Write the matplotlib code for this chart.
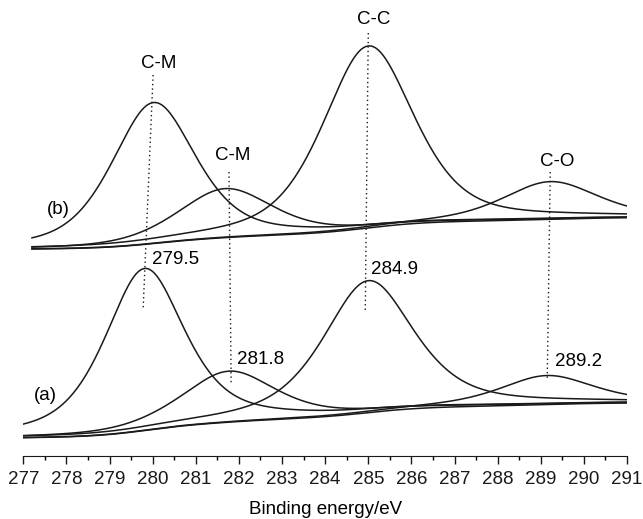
import numpy as np
import matplotlib
matplotlib.use("Agg")
import matplotlib.pyplot as plt
from matplotlib.ticker import MultipleLocator

plt.rcParams['font.family'] = ['Liberation Sans', 'DejaVu Sans']

# fitted components (intensity in arbitrary units)
# spectrum (b)
b_centers = [280.02, 281.68, 285.00, 289.22]
b_heights = [141, 49, 182, 37.6]
b_fwhm = [2.3, 2.6, 2.5, 2.6]
b_lorentz = 0.5
b_range = [277.2, 291.0]
b_background = [207, 238.3]

# spectrum (a)
a_centers = [279.81, 281.76, 285.00, 289.14]
a_heights = [162, 51, 132, 29]
a_fwhm = [2.2, 2.6, 2.5, 2.6]
a_lorentz = 0.6
a_range = [277.0, 291.0]
a_background = [18.3, 53]

peak_names = ["C-M", "C-M", "C-C", "C-O"]
peak_values = ["279.5", "281.8", "284.9", "289.2"]


def pseudo_voigt(x, c, h, w, eta):
    u = (x - c) / (w / 2.0)
    return h * (eta / (1 + u ** 2) + (1 - eta) * np.exp(-np.log(2) * u ** 2))


def draw_spectrum(ax, erange, centers, heights, fwhm, eta, background):
    x = np.linspace(erange[0], erange[1], 600)
    comps = [pseudo_voigt(x, c, h, w, eta) for c, h, w in zip(centers, heights, fwhm)]
    # shirley type background under the components
    total = np.cumsum(np.sum(comps, axis=0))
    bg = background[0] + (background[1] - background[0]) * total / total[-1]
    ax.plot(x, bg, color='#1a1a1a', lw=1.1)
    for comp in comps:
        ax.plot(x, bg + comp, color='#1a1a1a', lw=1.1)


fig = plt.figure(figsize=(6.43, 5.19), dpi=100)
ax = fig.add_axes([23.3 / 643, 63 / 519, (627 - 23.3) / 643, 456 / 519])

draw_spectrum(ax, b_range, b_centers, b_heights, b_fwhm, b_lorentz, b_background)
draw_spectrum(ax, a_range, a_centers, a_heights, a_fwhm, a_lorentz, a_background)

# dotted guide lines
guides = [([280.01, 279.78], [381, 148]),
          ([281.77, 281.82], [284, 73]),
          ([285.00, 284.93], [423, 143]),
          ([289.22, 289.15], [284, 76])]
for gx, gy in guides:
    ax.plot(gx, gy, color='#1a1a1a', lw=1.0, linestyle=(0, (1, 2.2)))

fs = 13.5
name_pos = [(280.15, 392), (281.86, 300), (285.13, 436), (289.38, 294)]
for name, (px, py) in zip(peak_names, name_pos):
    ax.text(px, py, name, ha='center', va='center', fontsize=fs)

value_pos = [(279.99, 197), (281.96, 96), (285.07, 187), (289.34, 95)]
for val, (px, py) in zip(peak_values, value_pos):
    ax.text(px, py, val, ha='left', va='center', fontsize=fs)

ax.text(277.81, 247, "(b)", ha='center', va='center', fontsize=fs)
ax.text(277.52, 61, "(a)", ha='center', va='center', fontsize=fs)

ax.set_xlim(277, 291)
ax.set_ylim(0, 456)
for s in ['left', 'right', 'top']:
    ax.spines[s].set_visible(False)
ax.spines['bottom'].set_color('#1a1a1a')
ax.set_yticks([])
ax.xaxis.set_major_locator(MultipleLocator(1))
ax.xaxis.set_minor_locator(MultipleLocator(0.5))
ax.tick_params(axis='x', which='major', length=5.8, width=1.0, labelsize=fs, pad=5, colors='#1a1a1a')
ax.tick_params(axis='x', which='minor', length=2.9, width=1.0)
ax.set_xlabel("Binding energy/eV", fontsize=fs, labelpad=9)
ax.patch.set_visible(False)

fig.savefig("out.png", dpi=100)
